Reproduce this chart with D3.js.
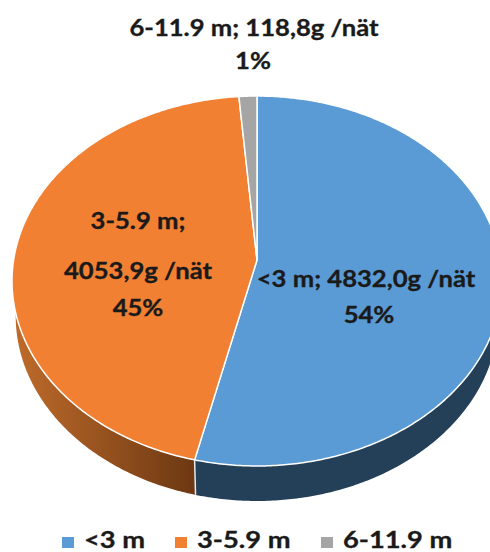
<!DOCTYPE html>
<html>
<head>
<meta charset="utf-8">
<script src="https://d3js.org/d3.v7.min.js"></script>
<style>
html, body { margin: 0; padding: 0; background: #fff; overflow: hidden; }
text { font-family: Lato, "Open Sans", sans-serif; font-weight: 700; fill: #1a1a1a; stroke: #1a1a1a; stroke-width: 0.35; }
</style>
</head>
<body>
<div id="chart"></div>
<script>
const categories = ["<3 m", "3-5.9 m", "6-11.9 m"]
const grams = [4832.0, 4053.9, 118.8]
const gramLabels = ["4832,0g /nät", "4053,9g /nät", "118,8g /nät"]
const percentLabels = ["54%", "45%", "1%"]
const topColors = ["#5b9bd5", "#f28033", "#a5a5a5"]

const width = 490, height = 552

// Perspective of the tilted disc: apex, half axes, and how much the back shrinks
const apex_x = 257, apex_y = 260
const radius_x = 243.4, radius_y = 182.6
const tilt = 0.1135
const depth = 35
const bottom_scale = 0.985

const svg = d3.select("#chart").append("svg")
	.attr("width", width)
	.attr("height", height)

const defs = svg.append("defs")

const orangeSide = defs.append("linearGradient")
	.attr("id", "orange_side")
	.attr("gradientUnits", "userSpaceOnUse")
	.attr("x1", 18).attr("x2", 196).attr("y1", 0).attr("y2", 0)
orangeSide.append("stop").attr("offset", 0).attr("stop-color", "#bd6a2a")
orangeSide.append("stop").attr("offset", 1).attr("stop-color", "#6c3812")

const sideFills = ["#243f58", "url(#orange_side)", "#6a6a6a"]

// angle is clockwise from the top of the disc, r runs 0..1
function project(r, angle) {
	const X = r * Math.sin(angle), Y = r * Math.cos(angle)
	const w = 1 + tilt * Y
	return [apex_x + radius_x * X / w, apex_y - radius_y * Y / w]
}

function projectBottom(angle) {
	const p = project(1, angle)
	return [apex_x + (p[0] - apex_x) * bottom_scale, p[1] + depth]
}

function rimAngles(a0, a1) {
	const n = Math.max(2, Math.ceil((a1 - a0) / 0.01))
	return d3.range(n + 1).map(i => a0 + (a1 - a0) * i / n)
}

const pie = d3.pie().sort(null).startAngle(0).endAngle(2 * Math.PI)
const slices = pie(grams)
const line = d3.line().curve(d3.curveLinear)

// Outer wall first, only the half facing the viewer
const front0 = Math.PI / 2, front1 = 3 * Math.PI / 2
slices.forEach((s, i) => {
	const a0 = Math.max(s.startAngle, front0)
	const a1 = Math.min(s.endAngle, front1)
	if (a1 <= a0) return
	const angles = rimAngles(a0, a1)
	const pts = angles.map(a => project(1, a)).concat(angles.slice().reverse().map(projectBottom))
	svg.append("path")
		.attr("class", "pie_side")
		.attr("d", line(pts) + "Z")
		.attr("fill", sideFills[i])
})

// seam between the two walls
const seam = slices[0].endAngle
svg.append("path")
	.attr("d", line([project(1, seam), projectBottom(seam)]))
	.attr("stroke", "#e8e8e8")
	.attr("stroke-width", 1.5)
	.attr("fill", "none")

// Top faces
slices.forEach((s, i) => {
	const pts = [[apex_x, apex_y]].concat(rimAngles(s.startAngle, s.endAngle).map(a => project(1, a)))
	svg.append("path")
		.attr("class", "pie_top")
		.attr("d", line(pts) + "Z")
		.attr("fill", topColors[i])
		.attr("stroke", "#fff")
		.attr("stroke-width", 1.5)
		.attr("stroke-linejoin", "round")
})

// Text is set wider than the font's own proportions
function label(str, x, y, anchor, stretch) {
	svg.append("text")
		.attr("transform", "translate(" + x + "," + y + ") scale(" + stretch + ",1)")
		.attr("text-anchor", anchor)
		.attr("font-size", 23.5)
		.text(str)
}

const label_stretch = 1.09
label(categories[2] + "; " + gramLabels[2], 254, 36, "middle", label_stretch)
label(percentLabels[2], 253, 69, "middle", label_stretch)
label(categories[1] + ";", 138, 229, "middle", label_stretch)
label(gramLabels[1], 138, 279, "middle", label_stretch)
label(percentLabels[1], 138, 316, "middle", label_stretch)
label(categories[0] + "; " + gramLabels[0], 366, 287, "middle", label_stretch)
label(percentLabels[0], 369, 323, "middle", label_stretch)

// Legend
const legend_x = [62, 175, 321]
categories.forEach((c, i) => {
	svg.append("rect")
		.attr("x", legend_x[i])
		.attr("y", 537)
		.attr("width", 12)
		.attr("height", 11)
		.attr("fill", topColors[i])
	label(c, legend_x[i] + 22, 548, "start", 1.16)
})
</script>
</body>
</html>
